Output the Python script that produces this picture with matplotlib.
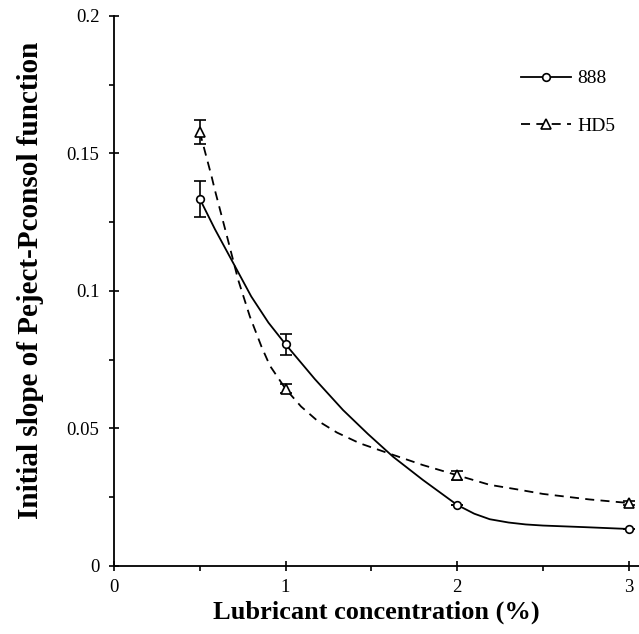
import numpy as np
import matplotlib
matplotlib.use("Agg")
import matplotlib.pyplot as plt
from matplotlib.lines import Line2D
from matplotlib.ticker import MultipleLocator

plt.rcParams["font.family"] = ["Liberation Serif", "DejaVu Serif"]

# measured points (lubricant %, initial slope, error)
conc = [0.5, 1, 2, 3]
slope_888 = [0.1335, 0.0806, 0.0222, 0.01345]
err_888 = [0.0065, 0.0038, 0.0, 0.0]
slope_hd5 = [0.1578, 0.0644, 0.0330, 0.0229]
err_hd5 = [0.0043, 0.0016, 0.0017, 0.0008]

# smoothed curves
curve_x_888 = [0.5, 0.588, 0.705, 0.8, 0.9, 1.0, 1.1, 1.17, 1.335, 1.48, 1.627, 1.80, 2.0, 2.1, 2.19, 2.3, 2.4, 2.5, 2.75, 3.0]
curve_y_888 = [0.1335, 0.1225, 0.1090, 0.0980, 0.0885, 0.0806, 0.0732, 0.0680, 0.0567, 0.0480, 0.0397, 0.0313, 0.0222, 0.0190, 0.0170, 0.0158, 0.0151, 0.0147, 0.0141, 0.01345]
curve_x_hd5 = [0.5, 0.569, 0.588, 0.656, 0.724, 0.792, 0.86, 0.909, 1.0, 1.09, 1.18, 1.30, 1.433, 1.627, 1.80, 2.0, 2.19, 2.345, 2.5, 2.77, 3.0]
curve_y_hd5 = [0.1578, 0.1416, 0.1367, 0.1205, 0.1040, 0.0907, 0.0797, 0.0728, 0.0644, 0.0580, 0.0531, 0.0485, 0.0446, 0.0404, 0.0367, 0.0330, 0.0295, 0.0279, 0.0262, 0.0242, 0.0229]

fig = plt.figure(figsize=(6.39, 6.34), dpi=100)
ax = fig.add_axes([0.1784, 0.1073, 0.8216, 0.8675])

dash = (0, (5, 3.5))
ax.plot(curve_x_888, curve_y_888, color="black", lw=1.3, ls="-")
ax.plot(curve_x_hd5, curve_y_hd5, color="black", lw=1.3, ls=dash)

ax.errorbar(conc, slope_888, yerr=err_888, fmt="o", ms=5.5, mfc="white", mec="black",
            mew=1.2, ecolor="black", elinewidth=1.2, capsize=4, capthick=1.2, zorder=3)
ax.errorbar(conc, slope_hd5, yerr=err_hd5, fmt="^", ms=6.5, mfc="white", mec="black",
            mew=1.2, ecolor="black", elinewidth=1.2, capsize=4, capthick=1.2, zorder=3)

ax.set_xlim(0, 3.06)
ax.set_ylim(0, 0.2)
ax.set_xticks([0, 1, 2, 3])
ax.set_xticklabels(["0", "1", "2", "3"])
ax.set_yticks([0, 0.05, 0.1, 0.15, 0.2])
ax.set_yticklabels(["0", "0.05", "0.1", "0.15", "0.2"])
ax.xaxis.set_minor_locator(MultipleLocator(0.5))
ax.yaxis.set_minor_locator(MultipleLocator(0.025))

for side in ["top", "right"]:
    ax.spines[side].set_visible(False)
for side in ["left", "bottom"]:
    ax.spines[side].set_linewidth(1.3)

ax.tick_params(which="major", direction="inout", length=7, width=1.2, labelsize=13.5)
ax.tick_params(axis="y", which="major", pad=7)
ax.tick_params(axis="x", which="major", pad=6)
ax.tick_params(which="minor", direction="out", length=3.5, width=1.2)

ax.set_xlabel("Lubricant concentration (%)", fontsize=19, fontweight="bold", labelpad=3)
ax.set_ylabel("Initial slope of Peject-Pconsol function", fontsize=21, fontweight="bold")
ax.yaxis.set_label_coords(-0.133, 0.52)

handles = [
    Line2D([], [], color="black", lw=1.3, ls="-", marker="o", ms=5.5, mfc="white", mec="black", mew=1.2),
    Line2D([], [], color="black", lw=1.3, ls=dash, marker="^", ms=6.5, mfc="white", mec="black", mew=1.2),
]
ax.legend(handles, ["888", "HD5"], loc="upper left", bbox_to_anchor=(0.7747, 0.902), frameon=False,
          fontsize=14, handlelength=2.6, handletextpad=0.3, labelspacing=1.55,
          borderpad=0, borderaxespad=0)

fig.savefig("out.png", dpi=100)
